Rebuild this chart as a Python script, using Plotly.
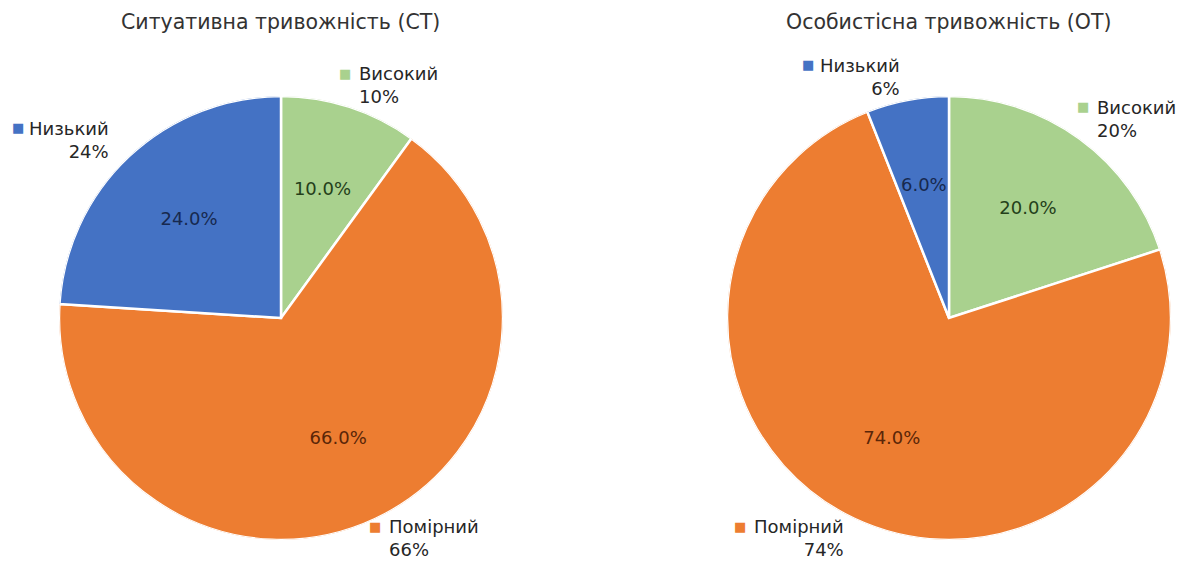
import plotly.graph_objects as go

categories = ["Високий", "Помірний", "Низький"]
st_values = [10, 66, 24]
ot_values = [20, 74, 6]
titles = ["Ситуативна тривожність (СТ)", "Особистісна тривожність (ОТ)"]
colors = ["#A9D18E", "#ED7D31", "#4472C4"]
inner_text_colors = ["#24401a", "#5a2608", "#17294f"]

W, H = 1187, 561
FONT = "DejaVu Sans"

fig = go.Figure()
domains = [
    dict(x=[59 / W, 503 / W], y=[1 - 540 / H, 1 - 96 / H]),
    dict(x=[727 / W, 1171 / W], y=[1 - 540 / H, 1 - 96 / H]),
]
all_vals = [st_values, ot_values]
for i, (vals, dom) in enumerate(zip(all_vals, domains)):
    total = sum(vals)
    widths = [v / total * 360 for v in vals]
    starts = [sum(widths[:k]) for k in range(len(widths))]
    centers = [s + w / 2 for s, w in zip(starts, widths)]
    sub = "polar" if i == 0 else "polar2"
    fig.add_trace(go.Barpolar(
        r=[1] * len(vals), theta=centers, width=widths, subplot=sub,
        marker=dict(color=colors, line=dict(color="white", width=2.5)),
        customdata=categories, hovertemplate="%{customdata}<extra></extra>",
        showlegend=False,
    ))
    fig.add_trace(go.Scatterpolar(
        r=[0.605] * len(vals), theta=centers, subplot=sub, mode="text",
        text=[f"{v / total * 100:.1f}%" for v in vals],
        textfont=dict(family=FONT, size=18, color=inner_text_colors),
        textposition="middle center", hoverinfo="skip", showlegend=False,
    ))
    fig.update_layout({sub: dict(
        domain=dom, bgcolor="rgba(0,0,0,0)", hole=0, bargap=0,
        radialaxis=dict(range=[0, 1], visible=False),
        angularaxis=dict(rotation=90, direction="clockwise", visible=False,
                         showgrid=False, showline=False),
    )})

title_pos = [(280, 22), (949, 22)]
for t, (x, y) in zip(titles, title_pos):
    fig.add_annotation(text=t, x=x / W, y=1 - y / H, xref="paper", yref="paper",
                       showarrow=False, font=dict(family=FONT, size=20.5, color="#333"),
                       xanchor="center", yanchor="middle")

# outside label layout: (chart index, category index, marker x, line1 y, text x, align)
label_layout = [
    (0, 0, 344.5, 73, 357, "left"),
    (0, 2, 17.5, 128, 111, "right"),
    (0, 1, 375, 526, 387, "left"),
    (1, 2, 808, 65, 902, "right"),
    (1, 0, 1083, 107, 1095, "left"),
    (1, 1, 740, 526, 846, "right"),
]
for ci, ki, mx, ly, tx, align in label_layout:
    fig.add_annotation(text="■", x=mx / W, y=1 - ly / H, xref="paper", yref="paper",
                       showarrow=False, font=dict(family=FONT, size=13, color=colors[ki]),
                       xanchor="center", yanchor="middle")
    fig.add_annotation(text=f"{categories[ki]}<br>{all_vals[ci][ki]}%",
                       x=tx / W, y=1 - (ly - 12) / H, xref="paper", yref="paper",
                       showarrow=False, align=align,
                       font=dict(family=FONT, size=18, color="#262626"),
                       xanchor="left" if align == "left" else "right", yanchor="top")

fig.update_layout(width=W, height=H, margin=dict(l=0, r=0, t=0, b=0),
                  paper_bgcolor="white", plot_bgcolor="white")
fig.write_html("out.html", config={"displayModeBar": False},
               post_script="document.body.style.margin='0px';")
